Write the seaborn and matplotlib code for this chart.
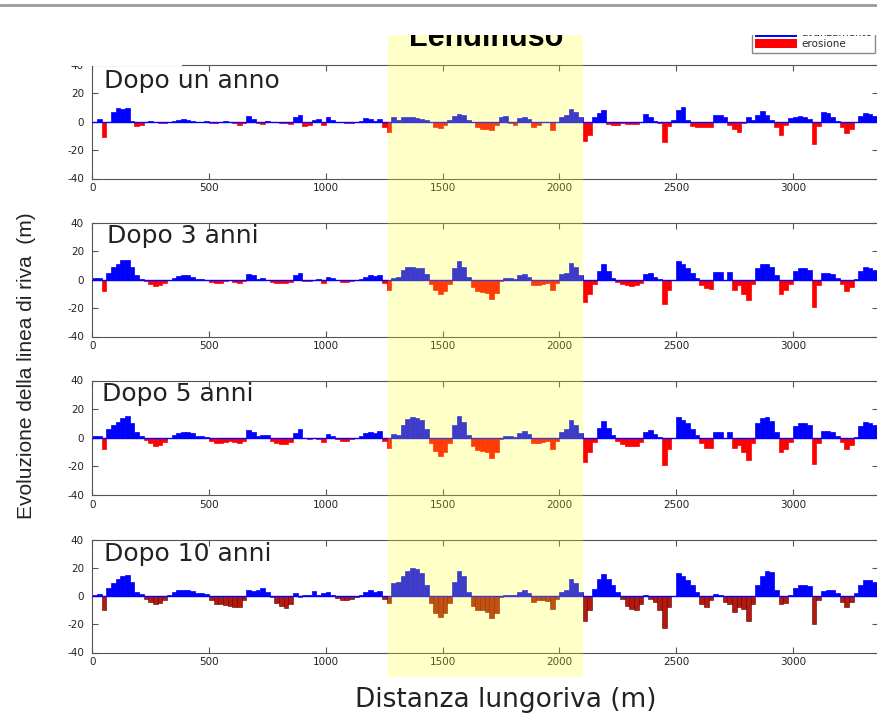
import numpy as np
import matplotlib.pyplot as plt
import matplotlib.transforms as mtransforms
from matplotlib.patches import Patch, Rectangle
from matplotlib.lines import Line2D
import seaborn as sns

# shoreline change per 20 m bin along the coast (bin centres in m)
dist = np.arange(10, 3380, 20)

anno_1 = [0, 2, -11, 0, 7, 10, 9, 10, 0.5, -3,
          -2, 0, 0.3, -0.5, -1, -1, -0.5, 0.5, 1.5, 2,
          1.5, 0.5, 0, -0.5, 0.5, -1, -1, -0.5, 0.5, 0,
          -1, -2.5, -1, 4, 2, -1, -1.5, 0.5, -0.5, -0.5,
          -1, -1, -1.5, 3, 4.5, -3, -2, 1, 2, -2,
          3, 1, 0, -0.5, -1, -1, -0.5, 0.5, 2.5, 2,
          0.5, 2, -4, -7, 3.5, 1, 3, 3.5, 3, 2.5,
          2, 1, 0, -4, -4.5, -2, 1.5, 4, 5.5, 4.5,
          1.5, -0.5, -4, -5, -5, -5.5, -2, 3.5, 4, -1,
          -2, 2.5, 3, 2, -3.5, -2, -0.5, 0, -6, -0.5,
          3, 5, 9, 7, 3, -13.5, -9, 3, 6, 8,
          -1.5, -2, -2, -1, -1.5, -1.5, -1.5, 0, 5.5, 3,
          0.5, -1, -14, -3, 1, 8, 10.5, 1, -3, -3.5,
          -3.5, -4, -4, 5, 4.5, 3, -2, -5, -7, -1,
          3, 1, 5, 7.5, 5, 1, -4, -9, -2, 2.5,
          3.5, 4, 3, 2, -16, -3, 7, 6, 3, 0.5,
          -4, -8, -5, 0, 4, 6, 5.5, 4, 2]

anni_3 = [1, 1.5, -8, 5, 9, 11, 14, 14, 9, 3,
          0.5, -1, -3, -4.5, -4, -2.5, -0.5, 1.5, 2.5, 3,
          3, 2, 0.5, 0.3, 0, -1.5, -2.5, -2.5, -1, 0,
          -1.5, -2.5, -1, 4, 3, 0.5, 1, -0.5, -1.5, -2,
          -2.5, -2.5, -1.5, 3, 4.5, -1, -1, -0.5, 0.5, -2,
          2, 1.5, -0.5, -1.5, -1.5, -1, 0, 0.5, 2, 3,
          2.5, 3.5, -2, -7, 1.5, 2, 7, 9, 9, 8.5,
          8, 4, -3, -7, -10, -8, -3, 8, 13, 9,
          2, -5, -8, -8.5, -9, -13.5, -9, -1, 1, 1,
          0.5, 3, 4, 2, -3.5, -3.5, -3, -2.5, -7.5, -2,
          4, 5, 12, 9, 3, -16, -10, -3, 6, 11,
          6, 1, -1.5, -3, -4, -4.5, -4, -2, 4, 5,
          2, 0.5, -17, -7, 0, 13, 11, 8, 5, 1.5,
          -4, -6, -6.5, 5.5, 5.5, 0, 5.5, -7, -4, -10,
          -14, -3, 8, 11, 11, 9, 3, -10, -7, -3,
          6, 8, 8, 7, -19, -4, 4.5, 5, 4, 1.5,
          -3, -8, -5, 0.5, 6, 9, 8.5, 7, 4]

anni_5 = [1, 1.5, -8, 6, 9, 11, 14, 15, 10, 4,
          1, -1.5, -4, -5.5, -5, -3, -0.5, 2, 3.5, 4,
          4, 3, 1, 1, 0.5, -2.5, -3.5, -4, -3, -2.5,
          -3, -4, -2, 5.5, 4, 1, 2, 2, -2.5, -3.5,
          -4.5, -4.5, -3, 3, 6, -0.5, -1, -0.5, -1, -3,
          2.5, 1.5, -1, -2, -2, -1, -0.5, 1, 3, 4,
          3, 4.5, -2, -7.5, 2.5, 2, 9, 13, 14.5, 13.5,
          12.5, 6, -4, -9, -13, -10, -4, 9, 15.5, 11,
          2, -6, -8.5, -9, -10, -14, -10, -1, 1, 1,
          0.5, 3.5, 5, 2.5, -3.5, -3.5, -3, -2.5, -8, -2,
          4, 6, 12.5, 9, 3, -17, -10, -3, 7, 12,
          7, 2, -2, -4.5, -5.5, -6, -5.5, -3, 4, 5.5,
          2.5, 0.5, -19, -8, 0, 14.5, 12.5, 10, 6, 2,
          -4, -7, -7.5, 4, 4, 0, 4, -7, -5, -10,
          -15.5, -4, 10, 14, 14.5, 12, 4, -10, -8, -3,
          8, 10, 10, 9, -18.5, -4, 4.5, 5, 4, 1.5,
          -3, -8, -5, 0.5, 8, 11, 10.5, 9, 6]

anni_10 = [1, 1.5, -10, 6, 9, 12, 14, 15, 10, 3,
           1.5, -2, -4.5, -5.5, -5, -3, 0.5, 2.5, 4, 4,
           4, 3.5, 2, 2, 1.5, -3, -5.5, -6, -6.5, -7,
           -7.5, -8, -3, 4, 3.5, 4, 5.5, 3, -1, -5,
           -7, -8.5, -6, 2, -1, 0.5, 1, 3.5, 1, 2,
           3, 1, -1.5, -3, -3, -2, -1, 1, 3, 4,
           3, 3.5, -2, -5, 9, 10, 14, 18, 20, 19,
           16, 8, -5, -12, -15, -12, -5, 10, 18, 14,
           3, -7, -10, -10, -11, -15.5, -12, -1, 1, 1,
           0.5, 3, 4, 2, -4, -3, -3, -3.5, -9.5, -2,
           3, 4, 12, 9, 3, -18, -10, 5, 12, 15.5,
           12, 8, 3, -2, -7, -9.5, -10, -6, 1, -2,
           -4, -10, -22.5, -8, 0, 16, 14, 11, 8, 3,
           -6, -8, -3, 1.5, 1, -4, -6, -11, -8, -9,
           -18, -6, 8, 14, 18, 17, 4, -6, -5, 0.5,
           6, 7.5, 7.5, 7, -20, -3, 3.5, 4, 4, 2,
           -4, -8, -4, 2, 8, 11, 11, 10, 7]

titles = ["Dopo un anno", "Dopo 3 anni", "Dopo 5 anni", "Dopo 10 anni"]
series = [anno_1, anni_3, anni_5, anni_10]
xticks = [0, 500, 1000, 1500, 2000, 2500, 3000]
yticks = [-40, -20, 0, 20, 40]
band = (1265, 2100)  # Lendinuso stretch

sns.set_style("ticks")
plt.rcParams['font.family'] = ['DejaVu Sans']

W, H = 877, 720
def fx(px):
    return px / W
def fy(py):
    return 1 - py / H

fig = plt.figure(figsize=(W / 100, H / 100), dpi=100)
fig.patch.set_facecolor('white')

# top / bottom of each panel, in pixels
rows = [(65, 178.5), (223, 336.5), (380.5, 495), (539.5, 652.5)]
title_base = [88, 243, 401.5, 561.5]
title_left = [104, 107, 102, 104]

axes = []
for k, (top, bot) in enumerate(rows):
    ax = fig.add_axes([fx(92.3), fy(bot), 786 / W, (bot - top) / H])
    vals = np.array(series[k], dtype=float)
    pos = np.clip(vals, 0, None)
    neg = np.clip(vals, None, 0)
    sns.barplot(x=dist, y=pos, ax=ax, native_scale=True, color='#0000ff',
                saturation=1, width=1, linewidth=0.5, edgecolor='#0000ff',
                errorbar=None)
    if k == 3:
        sns.barplot(x=dist, y=neg, ax=ax, native_scale=True, color='#b5180c',
                    saturation=1, width=1, linewidth=0.4, edgecolor='#5c0000',
                    errorbar=None)
    else:
        sns.barplot(x=dist, y=neg, ax=ax, native_scale=True, color='#ff0000',
                    saturation=1, width=1, linewidth=0.5, edgecolor='#ff0000',
                    errorbar=None)
    ax.axhline(0, color='#0000ff', lw=1, zorder=3)
    ax.set_xlim(0, 3366)
    ax.set_ylim(-40, 40)
    ax.set_xticks(xticks)
    ax.set_xticklabels([str(t) for t in xticks])
    ax.set_yticks(yticks)
    ax.set_yticklabels([str(t) for t in yticks])
    ax.set_xlabel("")
    ax.set_ylabel("")
    ax.tick_params(axis='both', direction='in', length=4, width=0.8,
                   color='#555555', labelsize=7.5, labelcolor='#222222',
                   top=True, right=True)
    ax.tick_params(axis='x', pad=3.5)
    ax.tick_params(axis='y', pad=6)
    for s in ax.spines.values():
        s.set_visible(True)
        s.set_color('#555555')
        s.set_linewidth(0.8)
    axes.append(ax)
    fig.text(fx(title_left[k]), fy(title_base[k]), titles[k], fontsize=18,
             va='baseline', ha='left', color='#222222', zorder=6)

# yellow band over the Lendinuso stretch, across all panels
blend = mtransforms.blended_transform_factory(axes[-1].transData, fig.transFigure)
fig.add_artist(Rectangle((band[0], fy(677)), band[1] - band[0], (677 - 35) / H,
                         transform=blend, facecolor=(1, 1, 0.1), alpha=0.24,
                         edgecolor='none', zorder=5))

# everything above y=35 px is cut off in the original screenshot
clip = mtransforms.TransformedBbox(mtransforms.Bbox([[0, 0], [1, fy(35)]]),
                                   fig.transFigure)

lend = fig.text(fx(486), fy(46.5), "Lendinuso", fontsize=22, weight='bold',
                family=['Liberation Sans', 'DejaVu Sans'], ha='center',
                va='baseline', color='black', zorder=6)
lend.set_clip_box(clip)
lend.set_clip_on(True)

handles = [Patch(facecolor='#0000ff', edgecolor='none', label='avanzamento'),
           Patch(facecolor='#ff0000', edgecolor='none', label='erosione')]
leg = fig.legend(handles=handles, loc='lower left',
                 bbox_to_anchor=(fx(752), fy(52.5)), borderaxespad=0,
                 fontsize=7.5, handlelength=4.0, handleheight=0.9,
                 handletextpad=0.4, labelspacing=0.1, borderpad=0.3,
                 frameon=True, fancybox=False, framealpha=1,
                 edgecolor='#888888')
leg.set_zorder(6)

# page above the plots: white strip with a grey rule
fig.add_artist(Rectangle((0, fy(35)), 1, 35 / H, transform=fig.transFigure,
                         facecolor='white', edgecolor='none', zorder=8))
fig.add_artist(Line2D([0, 1], [fy(4.5), fy(4.5)], transform=fig.transFigure,
                      color='#9a9a9a', lw=2, zorder=9))
# white box hiding the top-left corner of the first panel
fig.add_artist(Rectangle((fx(55), fy(65.8)), fx(182) - fx(55), (65.8 - 35) / H,
                         transform=fig.transFigure, facecolor='white',
                         edgecolor='none', zorder=5.5))

fig.text(fx(27), fy(366), "Evoluzione della linea di riva  (m)", rotation=90,
         fontsize=15, family=['Liberation Sans', 'DejaVu Sans'],
         ha='center', va='center', color='#222222')
fig.text(fx(506), fy(700), "Distanza lungoriva (m)", fontsize=19,
         ha='center', va='center', color='#222222')

fig.savefig("out.png", dpi=100)
